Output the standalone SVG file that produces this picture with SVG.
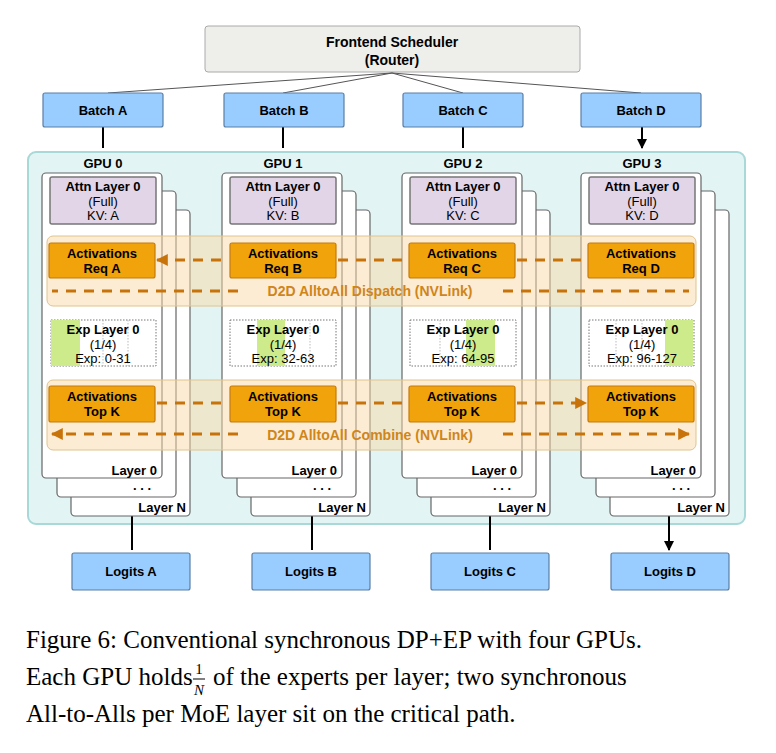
<svg xmlns="http://www.w3.org/2000/svg" width="776" height="753" viewBox="0 0 776 753">
<defs>
<style>
text{font-family:"Liberation Sans",Arial,sans-serif;text-anchor:middle;fill:#000}
.b{font-weight:bold;font-size:13px}
.n{font-size:13px}
.card{fill:#fff;stroke:#666;stroke-width:1.2}
.attn{fill:#e1d5e7;stroke:#777;stroke-width:1.5}
.act{fill:#f0a30a;stroke:#c67b0d;stroke-width:1.2}
.band{fill:#f7d9a8;fill-opacity:0.5;stroke:#e0c48e;stroke-width:1}
.exp{fill:#fff;stroke:#777;stroke-width:1;stroke-dasharray:1.5 1.5}
.div{stroke:#aaa;stroke-width:0.8;stroke-dasharray:1.5 1.5}
.green{fill:#cdeb8b}
.blue{fill:#99ccff;stroke:#5b7fa6;stroke-width:1.2}
.dash{stroke:#c8730a;stroke-width:3;stroke-dasharray:10 8;fill:none}
.lbl{fill:#d0851a;font-weight:bold;font-size:14px}
.blk{stroke:#000;stroke-width:2;fill:none}
.cap{font-family:"Liberation Serif","Times New Roman",serif;font-size:25px;text-anchor:start}
</style>
<marker id="oa" viewBox="0 0 10 10" refX="9" refY="5" markerWidth="4" markerHeight="4" orient="auto-start-reverse"><path d="M0,0L10,5L0,10z" fill="#c8730a"/></marker>
<marker id="ba" viewBox="0 0 10 10" refX="9" refY="5" markerWidth="6" markerHeight="5" orient="auto"><path d="M0,0L10,5L0,10z" fill="#000"/></marker>
</defs>

<rect x="28" y="152" width="717" height="372" rx="8" fill="#e3f4f4" stroke="#a8d8d8" stroke-width="2"/>

<g id="router">
<rect x="205" y="26" width="375" height="46" rx="3" fill="#eeeeea" stroke="#aaa"/>
<text class="b" x="392" y="47" style="font-size:14px">Frontend Scheduler</text>
<text class="b" x="392" y="65" style="font-size:14px">(Router)</text>
</g>

<g id="connectors">
<path d="M392,73L108,93M392,73L283,93M392,73L463,93M392,73L641,93" stroke="#555" stroke-width="1" fill="none"/>
<path class="blk" d="M103,127V148M283,127V148M463,127V148M642,127V148" marker-end="url(#ba)"/>
<path class="blk" d="M132,516V550M312,516V550M490,516V550M669,516V550" marker-end="url(#ba)"/>
</g>

<g id="gpu0"><text class="b" x="103" y="168">GPU 0</text>
<rect class="card" x="71" y="210" width="119" height="306" rx="4"/><rect class="card" x="57" y="191" width="119" height="306" rx="4"/><rect class="card" x="42" y="173" width="120" height="305" rx="4"/>
<rect class="attn" x="50" y="177" width="106" height="47" rx="2"/><text class="b" x="103" y="191">Attn Layer 0</text><text class="n" x="103" y="206">(Full)</text><text class="n" x="103" y="220">KV: A</text>
<rect class="exp" x="51" y="320" width="105" height="46"/><rect class="green" x="51" y="320" width="29" height="46"/><line class="div" x1="103" y1="320" x2="103" y2="366"/><line class="div" x1="128" y1="320" x2="128" y2="366"/>
<text class="b" x="103" y="334">Exp Layer 0</text><text class="n" x="103" y="349">(1/4)</text><text class="n" x="103" y="363">Exp: 0-31</text>
<text class="b" x="122" y="475" style="text-anchor:end" dx="35">Layer 0</text><text class="b" x="142" y="490">. . .</text><text class="b" x="186" y="512" style="text-anchor:end">Layer N</text>
</g>
<g id="gpu1"><text class="b" x="283" y="168">GPU 1</text>
<rect class="card" x="251" y="210" width="119" height="306" rx="4"/><rect class="card" x="237" y="191" width="119" height="306" rx="4"/><rect class="card" x="222" y="173" width="120" height="305" rx="4"/>
<rect class="attn" x="230" y="177" width="106" height="47" rx="2"/><text class="b" x="283" y="191">Attn Layer 0</text><text class="n" x="283" y="206">(Full)</text><text class="n" x="283" y="220">KV: B</text>
<rect class="exp" x="230" y="320" width="106" height="46"/><rect class="green" x="257" y="320" width="28" height="46"/><line class="div" x1="310" y1="320" x2="310" y2="366"/>
<text class="b" x="283" y="334">Exp Layer 0</text><text class="n" x="283" y="349">(1/4)</text><text class="n" x="283" y="363">Exp: 32-63</text>
<text class="b" x="337" y="475" style="text-anchor:end">Layer 0</text><text class="b" x="322" y="490">. . .</text><text class="b" x="366" y="512" style="text-anchor:end">Layer N</text>
</g>
<g id="gpu2"><text class="b" x="463" y="168">GPU 2</text>
<rect class="card" x="431" y="210" width="119" height="306" rx="4"/><rect class="card" x="417" y="191" width="119" height="306" rx="4"/><rect class="card" x="402" y="173" width="120" height="305" rx="4"/>
<rect class="attn" x="410" y="177" width="106" height="47" rx="2"/><text class="b" x="463" y="191">Attn Layer 0</text><text class="n" x="463" y="206">(Full)</text><text class="n" x="463" y="220">KV: C</text>
<rect class="exp" x="410" y="320" width="106" height="46"/><rect class="green" x="466" y="320" width="29" height="46"/><line class="div" x1="440" y1="320" x2="440" y2="366"/>
<text class="b" x="463" y="334">Exp Layer 0</text><text class="n" x="463" y="349">(1/4)</text><text class="n" x="463" y="363">Exp: 64-95</text>
<text class="b" x="517" y="475" style="text-anchor:end">Layer 0</text><text class="b" x="502" y="490">. . .</text><text class="b" x="546" y="512" style="text-anchor:end">Layer N</text>
</g>
<g id="gpu3"><text class="b" x="642" y="168">GPU 3</text>
<rect class="card" x="610" y="210" width="119" height="306" rx="4"/><rect class="card" x="596" y="191" width="119" height="306" rx="4"/><rect class="card" x="581" y="173" width="120" height="305" rx="4"/>
<rect class="attn" x="589" y="177" width="106" height="47" rx="2"/><text class="b" x="642" y="191">Attn Layer 0</text><text class="n" x="642" y="206">(Full)</text><text class="n" x="642" y="220">KV: D</text>
<rect class="exp" x="589" y="320" width="105" height="46"/><rect class="green" x="665" y="320" width="28" height="46"/><line class="div" x1="616" y1="320" x2="616" y2="366"/><line class="div" x1="642" y1="320" x2="642" y2="366"/>
<text class="b" x="642" y="334">Exp Layer 0</text><text class="n" x="642" y="349">(1/4)</text><text class="n" x="642" y="363">Exp: 96-127</text>
<text class="b" x="696" y="475" style="text-anchor:end">Layer 0</text><text class="b" x="681" y="490">. . .</text><text class="b" x="725" y="512" style="text-anchor:end">Layer N</text>
</g>

<g id="dispatch">
<rect class="band" x="47" y="236" width="649" height="70" rx="6"/>
<rect class="act" x="49" y="243" width="106" height="35" rx="2"/><text class="b" x="102" y="258">Activations</text><text class="b" x="102" y="273">Req A</text>
<rect class="act" x="230" y="243" width="106" height="35" rx="2"/><text class="b" x="283" y="258">Activations</text><text class="b" x="283" y="273">Req B</text>
<rect class="act" x="409" y="243" width="106" height="35" rx="2"/><text class="b" x="462" y="258">Activations</text><text class="b" x="462" y="273">Req C</text>
<rect class="act" x="588" y="243" width="106" height="35" rx="2"/><text class="b" x="641" y="258">Activations</text><text class="b" x="641" y="273">Req D</text>
<text class="lbl" x="370" y="296">D2D AlltoAll Dispatch (NVLink)</text>
</g>
<g id="combine">
<rect class="band" x="47" y="380" width="649" height="70" rx="6"/>
<rect class="act" x="49" y="386" width="106" height="36" rx="2"/><text class="b" x="102" y="401">Activations</text><text class="b" x="102" y="416">Top K</text>
<rect class="act" x="230" y="386" width="106" height="36" rx="2"/><text class="b" x="283" y="401">Activations</text><text class="b" x="283" y="416">Top K</text>
<rect class="act" x="409" y="386" width="106" height="36" rx="2"/><text class="b" x="462" y="401">Activations</text><text class="b" x="462" y="416">Top K</text>
<rect class="act" x="588" y="386" width="106" height="36" rx="2"/><text class="b" x="641" y="401">Activations</text><text class="b" x="641" y="416">Top K</text>
<text class="lbl" x="370" y="440">D2D AlltoAll Combine (NVLink)</text>
</g>

<g id="orange-connectors">
<path class="dash" d="M157,260H228M338,260H407M517,260H586M157,403H228M338,403H407M517,403H586" stroke-dasharray="8 7" marker-start="url(#oa)" marker-end="url(#oa)"/>
<path class="dash" d="M238,291H52M238,434H52" marker-end="url(#oa)"/>
<path class="dash" d="M503,291H689M503,434H689" marker-end="url(#oa)"/>
</g>

<g id="logits">
<rect class="blue" x="72" y="553" width="118" height="37" rx="2"/><text class="b" x="131" y="576">Logits A</text>
<rect class="blue" x="252" y="553" width="118" height="37" rx="2"/><text class="b" x="311" y="576">Logits B</text>
<rect class="blue" x="431" y="553" width="118" height="37" rx="2"/><text class="b" x="490" y="576">Logits C</text>
<rect class="blue" x="611" y="553" width="118" height="37" rx="2"/><text class="b" x="670" y="576">Logits D</text>
</g>
<g id="batches">
<rect class="blue" x="43" y="93" width="120" height="34" rx="2"/><text class="b" x="103" y="115">Batch A</text>
<rect class="blue" x="224" y="93" width="120" height="34" rx="2"/><text class="b" x="284" y="115">Batch B</text>
<rect class="blue" x="403" y="93" width="120" height="34" rx="2"/><text class="b" x="463" y="115">Batch C</text>
<rect class="blue" x="581" y="93" width="120" height="34" rx="2"/><text class="b" x="641" y="115">Batch D</text>
</g>

<g id="caption">
<text class="cap" x="26" y="648">Figure 6: Conventional synchronous DP+EP with four GPUs.</text>
<text class="cap" x="26" y="685">Each GPU holds</text>
<text class="cap" x="199" y="674" style="font-size:15px;text-anchor:middle">1</text>
<line x1="193" y1="679" x2="205" y2="679" stroke="#000" stroke-width="1"/>
<text class="cap" x="199" y="695" style="font-size:15px;text-anchor:middle;font-style:italic">N</text>
<text class="cap" x="213" y="685">of the experts per layer; two synchronous</text>
<text class="cap" x="26" y="722">All-to-Alls per MoE layer sit on the critical path.</text>
</g>
</svg>
